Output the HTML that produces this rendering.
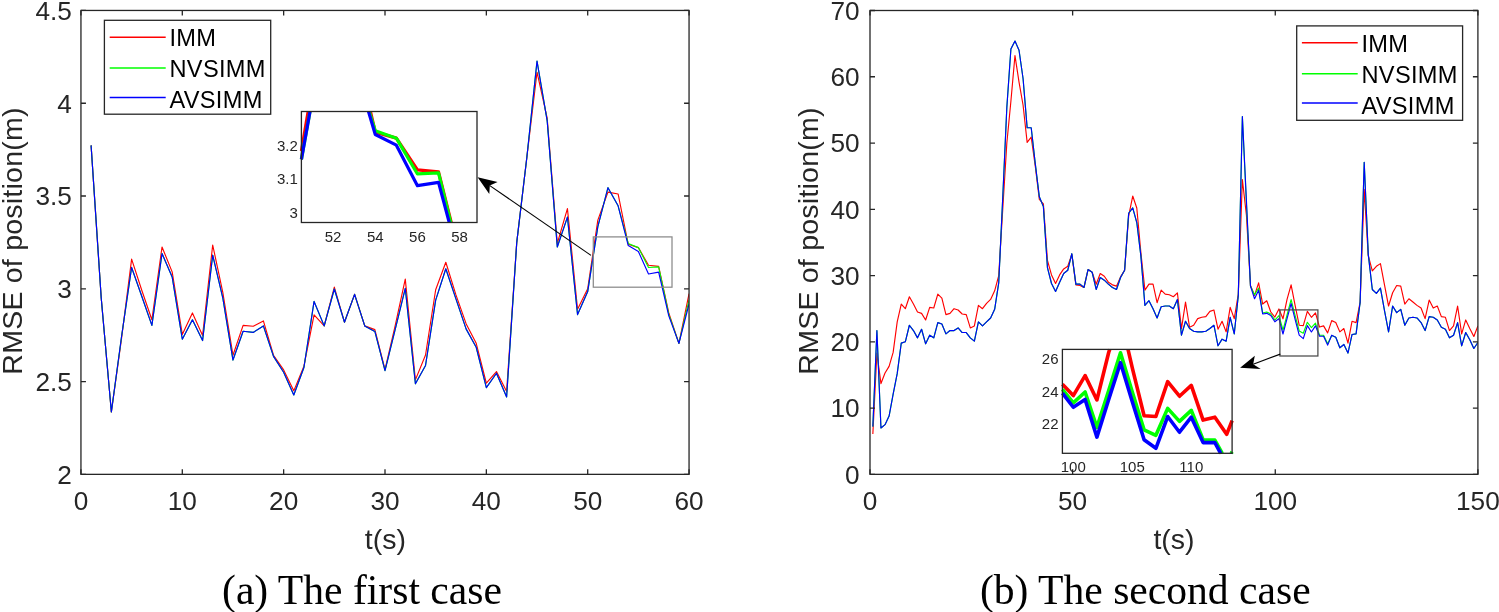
<!DOCTYPE html>
<html><head><meta charset="utf-8"><title>RMSE of position</title>
<style>html,body{margin:0;padding:0;background:#fff;}body{width:1499px;height:612px;overflow:hidden;}svg{display:block;font-family:"Liberation Sans",sans-serif;will-change:transform;}</style>
</head><body>
<svg width="1499" height="612" viewBox="0 0 1499 612" font-family="Liberation Sans, sans-serif">
<rect width="1499" height="612" fill="#fff"/>
<clipPath id="cL"><rect x="80.95" y="10.45" width="608.10" height="463.90"/></clipPath>
<g clip-path="url(#cL)" fill="none" stroke-width="1.15" stroke-linejoin="round">
<polyline stroke="#ff0000" points="91.09,145.35 101.22,298.07 111.36,412.00 121.49,338.89 131.62,259.10 141.76,290.27 151.89,319.78 162.03,247.04 172.16,271.90 182.30,334.44 192.43,312.91 202.57,335.55 212.70,245.00 222.84,292.69 232.97,355.22 243.11,325.35 253.24,326.27 263.38,320.89 273.51,355.22 283.65,369.88 293.78,390.85 303.92,366.17 314.06,314.77 324.19,325.90 334.32,287.12 344.46,322.19 354.59,294.36 364.73,325.90 374.86,329.61 385.00,369.51 395.13,325.90 405.27,279.14 415.40,379.90 425.54,355.03 435.67,289.72 445.81,262.25 455.94,294.91 466.08,323.68 476.21,343.34 486.35,383.24 496.48,371.55 506.62,391.59 516.75,242.40 526.89,157.04 537.02,72.24 547.16,118.07 557.29,243.33 567.43,208.63 577.56,309.20 587.70,288.79 597.83,220.13 607.97,192.11 618.10,193.97 628.24,244.26 638.37,247.60 648.51,265.22 658.64,266.34 668.78,312.91 678.91,343.34 689.05,293.61"/>
<polyline stroke="#00ff00" points="91.09,145.35 101.22,298.07 111.36,412.00 121.49,337.04 131.62,267.45 141.76,296.21 151.89,325.35 162.03,253.53 172.16,276.91 182.30,339.26 192.43,319.78 202.57,340.56 212.70,255.20 222.84,298.07 232.97,360.05 243.11,331.28 253.24,332.40 263.38,325.90 273.51,356.33 283.65,372.29 293.78,394.93 303.92,367.47 314.06,301.41 324.19,325.90 334.32,288.98 344.46,322.19 354.59,294.36 364.73,325.90 374.86,331.47 385.00,370.62 395.13,329.61 405.27,288.42 415.40,383.80 425.54,365.43 435.67,300.11 445.81,268.75 455.94,298.81 466.08,328.87 476.21,347.24 486.35,387.69 496.48,373.22 506.62,396.97 516.75,242.40 526.89,157.04 537.02,61.11 547.16,120.67 557.29,247.04 567.43,217.16 577.56,314.58 587.70,291.57 597.83,226.63 607.97,187.66 618.10,205.84 628.24,243.51 638.37,247.60 648.51,267.45 658.64,266.89 668.78,314.40 678.91,343.34 689.05,299.92"/>
<polyline stroke="#0000ff" points="91.09,145.35 101.22,298.07 111.36,412.00 121.49,337.04 131.62,267.45 141.76,296.21 151.89,325.35 162.03,253.53 172.16,276.91 182.30,339.26 192.43,319.78 202.57,340.56 212.70,255.20 222.84,298.07 232.97,360.05 243.11,331.28 253.24,332.40 263.38,325.90 273.51,356.33 283.65,372.29 293.78,394.93 303.92,367.47 314.06,301.41 324.19,325.90 334.32,288.98 344.46,322.19 354.59,294.36 364.73,325.90 374.86,331.47 385.00,370.62 395.13,329.61 405.27,288.42 415.40,383.80 425.54,365.43 435.67,300.11 445.81,268.75 455.94,298.81 466.08,328.87 476.21,347.24 486.35,387.69 496.48,373.22 506.62,396.97 516.75,242.40 526.89,157.04 537.02,61.11 547.16,120.67 557.29,247.04 567.43,217.16 577.56,314.58 587.70,291.57 597.83,226.63 607.97,187.66 618.10,205.84 628.24,245.55 638.37,251.49 648.51,273.95 658.64,272.09 668.78,315.88 678.91,343.34 689.05,304.01"/>
</g>
<rect x="80.95" y="10.45" width="608.10" height="463.90" fill="none" stroke="#262626" stroke-width="1.30"/>
<path d="M80.95,474.35v-5.00M80.95,10.45v5.00M182.30,474.35v-5.00M182.30,10.45v5.00M283.65,474.35v-5.00M283.65,10.45v5.00M385.00,474.35v-5.00M385.00,10.45v5.00M486.35,474.35v-5.00M486.35,10.45v5.00M587.70,474.35v-5.00M587.70,10.45v5.00M689.05,474.35v-5.00M689.05,10.45v5.00M80.95,474.35h5.00M689.05,474.35h-5.00M80.95,381.57h5.00M689.05,381.57h-5.00M80.95,288.79h5.00M689.05,288.79h-5.00M80.95,196.01h5.00M689.05,196.01h-5.00M80.95,103.23h5.00M689.05,103.23h-5.00M80.95,10.45h5.00M689.05,10.45h-5.00" stroke="#262626" stroke-width="1.30" fill="none"/>
<text x="80.95" y="510.00" text-anchor="middle" font-size="26.20" fill="#262626">0</text>
<text x="182.30" y="510.00" text-anchor="middle" font-size="26.20" fill="#262626">10</text>
<text x="283.65" y="510.00" text-anchor="middle" font-size="26.20" fill="#262626">20</text>
<text x="385.00" y="510.00" text-anchor="middle" font-size="26.20" fill="#262626">30</text>
<text x="486.35" y="510.00" text-anchor="middle" font-size="26.20" fill="#262626">40</text>
<text x="587.70" y="510.00" text-anchor="middle" font-size="26.20" fill="#262626">50</text>
<text x="689.05" y="510.00" text-anchor="middle" font-size="26.20" fill="#262626">60</text>
<text x="71.95" y="483.70" text-anchor="end" font-size="26.20" fill="#262626">2</text>
<text x="71.95" y="390.92" text-anchor="end" font-size="26.20" fill="#262626">2.5</text>
<text x="71.95" y="298.14" text-anchor="end" font-size="26.20" fill="#262626">3</text>
<text x="71.95" y="205.36" text-anchor="end" font-size="26.20" fill="#262626">3.5</text>
<text x="71.95" y="112.58" text-anchor="end" font-size="26.20" fill="#262626">4</text>
<text x="71.95" y="19.80" text-anchor="end" font-size="26.20" fill="#262626">4.5</text>
<clipPath id="cR"><rect x="870.00" y="10.50" width="607.90" height="463.85"/></clipPath>
<g clip-path="url(#cR)" fill="none" stroke-width="1.15" stroke-linejoin="round">
<polyline stroke="#ff0000" points="872.84,433.93 876.90,353.09 880.96,383.57 885.02,372.97 889.08,366.34 893.14,352.42 897.20,321.94 901.26,304.05 905.32,308.69 909.38,296.76 913.45,304.05 917.51,312.00 921.57,313.33 925.63,319.95 929.69,307.36 933.75,308.03 937.81,294.11 941.87,298.09 945.93,314.65 949.99,313.33 954.05,308.69 958.11,310.01 962.18,313.99 966.24,314.65 970.30,327.91 974.36,325.92 978.42,305.38 982.48,308.69 986.54,303.39 990.60,299.41 994.66,290.80 998.72,275.56 1002.78,208.63 1006.84,143.03 1010.90,101.28 1014.97,55.56 1019.03,82.07 1023.09,105.26 1027.15,142.37 1031.21,137.06 1035.27,166.22 1039.33,199.35 1043.39,203.99 1047.45,260.32 1051.51,274.89 1055.57,283.51 1059.63,274.89 1063.70,268.93 1067.76,266.28 1071.82,254.35 1075.88,284.83 1079.94,285.50 1084.00,287.48 1088.06,269.59 1092.12,272.24 1096.18,284.17 1100.24,273.57 1104.30,276.22 1108.36,282.18 1112.43,284.83 1116.49,286.16 1120.55,276.88 1124.61,270.26 1128.67,215.92 1132.73,196.04 1136.79,207.97 1140.85,252.36 1144.91,290.14 1148.97,284.17 1153.03,284.17 1157.09,302.73 1161.16,290.14 1165.22,294.11 1169.28,294.77 1173.34,296.76 1177.40,292.79 1181.46,328.57 1185.52,302.06 1189.58,327.24 1193.64,325.26 1197.70,318.63 1201.76,317.30 1205.82,316.64 1209.89,311.34 1213.95,310.01 1218.01,329.23 1222.07,321.28 1226.13,331.88 1230.19,307.36 1234.25,318.63 1238.31,294.11 1242.37,179.47 1246.43,215.26 1250.49,285.50 1254.55,295.44 1258.62,282.85 1262.68,304.05 1266.74,300.74 1270.80,312.00 1274.86,317.04 1278.92,308.89 1282.98,318.83 1287.04,299.41 1291.10,284.83 1295.16,305.71 1299.22,325.26 1303.28,325.59 1307.35,311.34 1311.41,317.30 1315.47,312.86 1319.53,327.04 1323.59,325.85 1327.65,332.88 1331.71,320.62 1335.77,322.60 1339.83,331.88 1343.89,328.57 1347.95,343.15 1352.01,321.28 1356.08,322.60 1360.14,302.06 1364.20,189.41 1368.26,255.68 1372.32,270.92 1376.38,266.28 1380.44,263.63 1384.50,284.83 1388.56,306.04 1392.62,292.79 1396.68,285.50 1400.74,286.16 1404.81,304.05 1408.87,298.75 1412.93,302.06 1416.99,305.38 1421.05,308.03 1425.11,318.63 1429.17,300.07 1433.23,308.03 1437.29,306.04 1441.35,316.64 1445.41,317.30 1449.47,330.56 1453.54,325.92 1457.60,306.04 1461.66,333.87 1465.72,319.95 1469.78,328.57 1473.84,336.52 1477.90,325.92"/>
<polyline stroke="#00ff00" points="872.84,426.64 876.90,330.56 880.96,427.97 885.02,424.65 889.08,416.04 893.14,394.17 897.20,373.63 901.26,343.15 905.32,341.82 909.38,325.26 913.45,330.56 917.51,337.85 921.57,329.23 925.63,343.81 929.69,335.20 933.75,337.85 937.81,322.60 941.87,323.93 945.93,333.87 949.99,330.56 954.05,330.56 958.11,327.91 962.18,332.54 966.24,332.54 970.30,337.85 974.36,341.16 978.42,321.94 982.48,325.92 986.54,321.94 990.60,317.97 994.66,309.35 998.72,282.85 1002.78,196.70 1006.84,107.25 1010.90,48.93 1014.97,40.98 1019.03,50.26 1023.09,78.75 1027.15,127.79 1031.21,127.79 1035.27,163.57 1039.33,196.70 1043.39,206.64 1047.45,267.61 1051.51,283.51 1055.57,291.46 1059.63,282.18 1063.70,273.57 1067.76,270.26 1071.82,253.69 1075.88,284.17 1079.94,284.17 1084.00,287.48 1088.06,269.59 1092.12,272.24 1096.18,289.47 1100.24,277.55 1104.30,280.20 1108.36,284.17 1112.43,287.48 1116.49,289.47 1120.55,277.55 1124.61,270.26 1128.67,213.27 1132.73,207.97 1136.79,222.55 1140.85,255.68 1144.91,305.38 1148.97,300.74 1153.03,308.69 1157.09,317.97 1161.16,306.70 1165.22,306.04 1169.28,306.04 1173.34,308.69 1177.40,299.41 1181.46,335.20 1185.52,321.28 1189.58,328.57 1193.64,331.22 1197.70,331.88 1201.76,331.88 1205.82,331.22 1209.89,328.57 1213.95,325.26 1218.01,345.80 1222.07,339.17 1226.13,341.16 1230.19,317.30 1234.25,333.87 1238.31,295.44 1242.37,116.52 1246.43,204.32 1250.49,286.16 1254.55,294.77 1258.62,288.15 1262.68,313.00 1266.74,312.00 1270.80,313.99 1274.86,320.02 1278.92,315.58 1282.98,330.03 1287.04,314.98 1291.10,299.54 1295.16,315.58 1299.22,331.02 1303.28,333.27 1307.35,322.27 1311.41,327.57 1315.47,323.07 1319.53,335.06 1323.59,335.26 1327.65,343.81 1331.71,335.53 1335.77,337.18 1339.83,347.79 1343.89,344.47 1347.95,353.09 1352.01,334.53 1356.08,333.87 1360.14,302.06 1364.20,162.25 1368.26,254.35 1372.32,289.47 1376.38,293.45 1380.44,288.15 1384.50,310.68 1388.56,331.88 1392.62,306.04 1396.68,312.67 1400.74,309.35 1404.81,325.26 1408.87,317.97 1412.93,317.30 1416.99,317.97 1421.05,322.60 1425.11,330.56 1429.17,316.64 1433.23,317.30 1437.29,319.95 1441.35,327.24 1445.41,329.23 1449.47,337.85 1453.54,335.20 1457.60,322.60 1461.66,345.80 1465.72,332.54 1469.78,339.83 1473.84,348.45 1477.90,342.48"/>
<polyline stroke="#0000ff" points="872.84,426.64 876.90,330.56 880.96,427.97 885.02,424.65 889.08,416.04 893.14,394.17 897.20,373.63 901.26,343.15 905.32,341.82 909.38,325.26 913.45,330.56 917.51,337.85 921.57,329.23 925.63,343.81 929.69,335.20 933.75,337.85 937.81,322.60 941.87,323.93 945.93,333.87 949.99,330.56 954.05,330.56 958.11,327.91 962.18,332.54 966.24,332.54 970.30,337.85 974.36,341.16 978.42,321.94 982.48,325.92 986.54,321.94 990.60,317.97 994.66,309.35 998.72,282.85 1002.78,196.70 1006.84,107.25 1010.90,48.93 1014.97,40.98 1019.03,50.26 1023.09,78.75 1027.15,127.79 1031.21,127.79 1035.27,163.57 1039.33,196.70 1043.39,206.64 1047.45,267.61 1051.51,283.51 1055.57,291.46 1059.63,282.18 1063.70,273.57 1067.76,270.26 1071.82,253.69 1075.88,284.17 1079.94,284.17 1084.00,287.48 1088.06,269.59 1092.12,272.24 1096.18,289.47 1100.24,277.55 1104.30,280.20 1108.36,284.17 1112.43,287.48 1116.49,289.47 1120.55,277.55 1124.61,270.26 1128.67,213.27 1132.73,207.97 1136.79,222.55 1140.85,255.68 1144.91,305.38 1148.97,300.74 1153.03,308.69 1157.09,317.97 1161.16,306.70 1165.22,306.04 1169.28,306.04 1173.34,308.69 1177.40,299.41 1181.46,335.20 1185.52,321.28 1189.58,328.57 1193.64,331.22 1197.70,331.88 1201.76,331.88 1205.82,331.22 1209.89,328.57 1213.95,325.26 1218.01,345.80 1222.07,339.17 1226.13,341.16 1230.19,317.30 1234.25,333.87 1238.31,295.44 1242.37,116.52 1246.43,200.68 1250.49,286.16 1254.55,298.75 1258.62,290.14 1262.68,313.99 1266.74,313.33 1270.80,315.51 1274.86,321.81 1278.92,318.63 1282.98,334.00 1287.04,318.63 1291.10,303.59 1295.16,319.56 1299.22,335.06 1303.28,338.57 1307.35,325.59 1311.41,332.01 1315.47,325.85 1319.53,336.26 1323.59,336.26 1327.65,345.13 1331.71,335.20 1335.77,337.18 1339.83,347.79 1343.89,344.47 1347.95,353.09 1352.01,334.53 1356.08,333.87 1360.14,302.06 1364.20,162.25 1368.26,254.35 1372.32,289.47 1376.38,293.45 1380.44,288.15 1384.50,310.68 1388.56,331.88 1392.62,306.04 1396.68,312.67 1400.74,309.35 1404.81,325.26 1408.87,317.97 1412.93,317.30 1416.99,317.97 1421.05,322.60 1425.11,330.56 1429.17,316.64 1433.23,317.30 1437.29,319.95 1441.35,327.24 1445.41,329.23 1449.47,337.85 1453.54,335.20 1457.60,322.60 1461.66,345.80 1465.72,332.54 1469.78,339.83 1473.84,348.45 1477.90,342.48"/>
</g>
<rect x="870.00" y="10.50" width="607.90" height="463.85" fill="none" stroke="#262626" stroke-width="1.30"/>
<path d="M870.00,474.35v-5.00M870.00,10.50v5.00M1072.63,474.35v-5.00M1072.63,10.50v5.00M1275.27,474.35v-5.00M1275.27,10.50v5.00M1477.90,474.35v-5.00M1477.90,10.50v5.00M870.00,474.35h5.00M1477.90,474.35h-5.00M870.00,408.09h5.00M1477.90,408.09h-5.00M870.00,341.82h5.00M1477.90,341.82h-5.00M870.00,275.56h5.00M1477.90,275.56h-5.00M870.00,209.29h5.00M1477.90,209.29h-5.00M870.00,143.03h5.00M1477.90,143.03h-5.00M870.00,76.76h5.00M1477.90,76.76h-5.00M870.00,10.50h5.00M1477.90,10.50h-5.00" stroke="#262626" stroke-width="1.30" fill="none"/>
<text x="870.00" y="510.00" text-anchor="middle" font-size="26.20" fill="#262626">0</text>
<text x="1072.63" y="510.00" text-anchor="middle" font-size="26.20" fill="#262626">50</text>
<text x="1275.27" y="510.00" text-anchor="middle" font-size="26.20" fill="#262626">100</text>
<text x="1477.90" y="510.00" text-anchor="middle" font-size="26.20" fill="#262626">150</text>
<text x="859.70" y="483.70" text-anchor="end" font-size="26.20" fill="#262626">0</text>
<text x="859.70" y="417.44" text-anchor="end" font-size="26.20" fill="#262626">10</text>
<text x="859.70" y="351.17" text-anchor="end" font-size="26.20" fill="#262626">20</text>
<text x="859.70" y="284.91" text-anchor="end" font-size="26.20" fill="#262626">30</text>
<text x="859.70" y="218.64" text-anchor="end" font-size="26.20" fill="#262626">40</text>
<text x="859.70" y="152.38" text-anchor="end" font-size="26.20" fill="#262626">50</text>
<text x="859.70" y="86.11" text-anchor="end" font-size="26.20" fill="#262626">60</text>
<text x="859.70" y="19.85" text-anchor="end" font-size="26.20" fill="#262626">70</text>
<rect x="593.3" y="236.9" width="78.7" height="50.3" fill="none" stroke="#8a8a8a" stroke-width="1.25"/>
<rect x="1279.9" y="309.9" width="38.0" height="46.1" fill="none" stroke="#4a4a4a" stroke-width="1.25"/>
<rect x="104.40" y="20.30" width="166.30" height="93.90" fill="#fff" stroke="#262626" stroke-width="1.30"/>
<line x1="109.70" y1="37.30" x2="165.70" y2="37.30" stroke="#ff0000" stroke-width="1.50"/>
<text x="169.50" y="46.10" font-size="23.60" letter-spacing="0.30" fill="#000">IMM</text>
<line x1="109.70" y1="67.90" x2="165.70" y2="67.90" stroke="#00ff00" stroke-width="1.50"/>
<text x="169.50" y="77.10" font-size="23.60" letter-spacing="0.30" fill="#000">NVSIMM</text>
<line x1="109.70" y1="97.60" x2="165.70" y2="97.60" stroke="#0000ff" stroke-width="1.50"/>
<text x="169.50" y="108.20" font-size="23.60" letter-spacing="0.30" fill="#000">AVSIMM</text>
<rect x="1296.70" y="25.90" width="165.90" height="94.40" fill="#fff" stroke="#262626" stroke-width="1.30"/>
<line x1="1301.90" y1="42.80" x2="1357.70" y2="42.80" stroke="#ff0000" stroke-width="1.50"/>
<text x="1361.50" y="51.65" font-size="23.60" letter-spacing="0.30" fill="#000">IMM</text>
<line x1="1301.90" y1="73.80" x2="1357.70" y2="73.80" stroke="#00ff00" stroke-width="1.50"/>
<text x="1361.50" y="82.70" font-size="23.60" letter-spacing="0.30" fill="#000">NVSIMM</text>
<line x1="1301.90" y1="103.00" x2="1357.70" y2="103.00" stroke="#0000ff" stroke-width="1.50"/>
<text x="1361.50" y="113.70" font-size="23.60" letter-spacing="0.30" fill="#000">AVSIMM</text>
<rect x="301.40" y="111.50" width="175.60" height="111.00" fill="#fff"/>
<clipPath id="iL"><rect x="301.40" y="111.50" width="175.60" height="111.00"/></clipPath>
<g fill="none" stroke-width="3.20" stroke-linejoin="round" stroke-linecap="butt">
<polyline stroke="#ff0000" points="301.40,151.02 308.13,111.50"/>
<polyline stroke="#ff0000" points="370.47,111.50 375.27,132.13 396.36,138.15 417.44,169.93 438.52,171.93 451.22,222.50"/>
<polyline stroke="#00ff00" points="301.40,159.36 310.02,111.50"/>
<polyline stroke="#00ff00" points="369.28,111.50 375.27,130.80 396.36,138.15 417.44,173.94 438.52,172.94 450.73,222.50"/>
<polyline stroke="#0000ff" points="301.40,159.36 310.02,111.50"/>
<polyline stroke="#0000ff" points="368.51,111.50 375.27,134.48 396.36,145.18 417.44,185.64 438.52,182.30 449.26,222.50"/>
</g>
<rect x="301.40" y="111.50" width="175.60" height="111.00" fill="none" stroke="#262626" stroke-width="1.30"/>
<text x="333.11" y="242.20" text-anchor="middle" font-size="15.00" fill="#262626">52</text>
<text x="375.27" y="242.20" text-anchor="middle" font-size="15.00" fill="#262626">54</text>
<text x="417.44" y="242.20" text-anchor="middle" font-size="15.00" fill="#262626">56</text>
<text x="459.61" y="242.20" text-anchor="middle" font-size="15.00" fill="#262626">58</text>
<text x="297.80" y="217.80" text-anchor="end" font-size="15.00" fill="#262626">3</text>
<text x="297.80" y="184.36" text-anchor="end" font-size="15.00" fill="#262626">3.1</text>
<text x="297.80" y="150.91" text-anchor="end" font-size="15.00" fill="#262626">3.2</text>
<rect x="1062.40" y="349.40" width="169.70" height="103.90" fill="#fff"/>
<clipPath id="iR"><rect x="1062.40" y="349.40" width="169.70" height="103.90"/></clipPath>
<g fill="none" stroke-width="3.60" stroke-linejoin="round" stroke-linecap="butt">
<polyline stroke="#ff0000" points="1062.40,384.21 1073.30,395.60 1085.10,375.66 1096.90,399.97 1108.69,352.48 1109.71,349.40"/>
<polyline stroke="#ff0000" points="1128.02,349.40 1132.29,367.88 1144.09,415.70 1155.89,416.51 1167.68,381.66 1179.48,396.24 1191.28,385.38 1203.08,420.07 1214.88,417.15 1226.67,434.34 1232.10,420.54"/>
<polyline stroke="#00ff00" points="1062.40,389.26 1073.30,402.89 1085.10,392.03 1096.90,427.37 1108.69,390.57 1120.49,352.80 1132.29,392.03 1144.09,429.80 1155.89,435.31 1167.68,408.40 1179.48,421.37 1191.28,410.35 1203.08,439.68 1214.88,440.17 1222.28,453.30"/>
<polyline stroke="#00ff00" points="1231.20,453.30 1232.10,451.76"/>
<polyline stroke="#0000ff" points="1062.40,393.04 1073.30,407.27 1085.10,399.49 1096.90,437.09 1108.69,399.49 1120.49,362.69 1132.29,401.76 1144.09,439.68 1155.89,448.28 1167.68,416.51 1179.48,432.23 1191.28,417.15 1203.08,442.60 1214.88,442.60 1220.69,453.30"/>
<polyline stroke="#0000ff" points="1232.02,453.30 1232.10,453.14"/>
</g>
<rect x="1062.40" y="349.40" width="169.70" height="103.90" fill="none" stroke="#262626" stroke-width="1.30"/>
<text x="1073.30" y="472.10" text-anchor="middle" font-size="15.00" fill="#262626">100</text>
<text x="1132.29" y="472.10" text-anchor="middle" font-size="15.00" fill="#262626">105</text>
<text x="1191.28" y="472.10" text-anchor="middle" font-size="15.00" fill="#262626">110</text>
<text x="1058.50" y="429.10" text-anchor="end" font-size="15.00" fill="#262626">22</text>
<text x="1058.50" y="396.68" text-anchor="end" font-size="15.00" fill="#262626">24</text>
<text x="1058.50" y="364.26" text-anchor="end" font-size="15.00" fill="#262626">26</text>
<line x1="591.00" y1="255.40" x2="489.80" y2="185.60" stroke="#000" stroke-width="1.15"/>
<path d="M477.60,177.30L497.60,182.00L489.80,185.60L489.30,194.00Z" fill="#000"/>
<line x1="1280.30" y1="354.10" x2="1253.20" y2="364.20" stroke="#000" stroke-width="1.15"/>
<path d="M1240.10,367.80L1254.80,355.70L1253.20,364.20L1260.70,369.10Z" fill="#000"/>
<text x="385.35" y="548.5" text-anchor="middle" font-size="28.50" fill="#262626">t(s)</text>
<text x="1174.0" y="548.5" text-anchor="middle" font-size="28.50" fill="#262626">t(s)</text>
<text transform="translate(22.0,241.0) rotate(-90)" text-anchor="middle" font-size="28.50" letter-spacing="0.23" fill="#262626">RMSE of position(m)</text>
<text transform="translate(818.1,241.0) rotate(-90)" text-anchor="middle" font-size="28.50" letter-spacing="0.23" fill="#262626">RMSE of position(m)</text>
<text x="362.0" y="603.7" text-anchor="middle" font-family="Liberation Serif, serif" font-size="41.60" fill="#000">(a) The first case</text>
<text x="1145.3" y="603.7" text-anchor="middle" font-family="Liberation Serif, serif" font-size="41.60" fill="#000">(b) The second case</text>
</svg>
</body></html>
